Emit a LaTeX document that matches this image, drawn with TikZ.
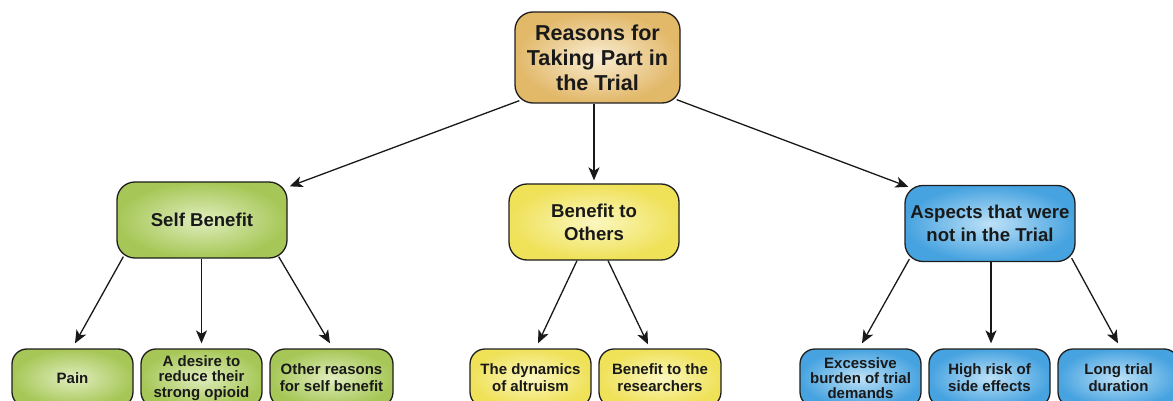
\documentclass[tikz,border=0pt]{standalone}
\usepackage{fontspec}
\setmainfont{Liberation Sans}
\usetikzlibrary{arrows.meta}
\definecolor{goldout}{HTML}{E2B869}
\definecolor{goldin}{HTML}{F9EDD3}
\definecolor{greenout}{HTML}{A6C757}
\definecolor{greenin}{HTML}{E0EDBE}
\definecolor{yellowout}{HTML}{EFE158}
\definecolor{yellowin}{HTML}{FBF7C0}
\definecolor{blueout}{HTML}{47A3E0}
\definecolor{bluein}{HTML}{BDE1F7}
\definecolor{edgegray}{HTML}{1E1E1E}
\tikzset{
  box/.style={draw=edgegray, line width=1.3pt, rounded corners=15pt, align=center,
    inner sep=0pt, font=\bfseries, text=black!90},
  topbox/.style={box, minimum width=165pt, minimum height=91pt, rounded corners=18pt,
    inner color=goldin, outer color=goldout, font=\fontsize{21.6}{25}\selectfont\bfseries},
  midbox/.style={box, minimum width=170pt, minimum height=76pt, rounded corners=18pt,
    font=\fontsize{18.6}{23}\selectfont\bfseries},
  leafbox/.style={box, minimum width=121pt, minimum height=58pt, rounded corners=15pt,
    font=\fontsize{15}{17}\selectfont\bfseries},
  tightleaf/.style={leafbox, font=\fontsize{15}{15.3}\selectfont\bfseries},
  greenfill/.style={inner color=greenin, outer color=greenout},
  yellowfill/.style={inner color=yellowin, outer color=yellowout},
  bluefill/.style={inner color=bluein, outer color=blueout},
  link/.style={draw=black!90, line width=1.3pt, -{Stealth[length=13pt,width=11pt,inset=3.5pt]}}
}
\begin{document}
\begin{tikzpicture}[x=1pt,y=-1pt]
\useasboundingbox (0,0) rectangle (1173,401);
\clip (0,0) rectangle (1173,401);
\node[topbox] (top) at (597.5,57.5) {Reasons for\\Taking Part in\\the Trial};
\node[midbox,greenfill] (sb) at (202,220) {Self Benefit};
\node[midbox,yellowfill] (bo) at (594,222) {Benefit to\\Others};
\node[midbox,bluefill] (asp) at (990,223.5) {Aspects that were\\not in the Trial};

\node[leafbox,greenfill] (pain) at (72.5,378) {Pain};
\node[tightleaf,greenfill] (desire) at (201.5,378) {A desire to\\reduce their\\strong opioid};
\node[leafbox,greenfill,minimum width=123pt] (other) at (331.5,378) {Other reasons\\for self benefit};
\node[leafbox,yellowfill] (dyn) at (530.5,378) {The dynamics\\of altruism};
\node[leafbox,yellowfill,minimum width=122pt] (res) at (660,378) {Benefit to the\\researchers};
\node[tightleaf,bluefill] (exc) at (860.5,378) {Excessive\\burden of trial\\demands};
\node[leafbox,bluefill] (high) at (989.5,378) {High risk of\\side effects};
\node[leafbox,bluefill] (long) at (1118.5,378) {Long trial\\duration};

\draw[link] ([xshift=5pt,yshift=3pt]top.south west) -- ([xshift=2pt,yshift=-5pt]sb.north east);
\draw[link] ([xshift=-3.5pt]top.south) -- ([yshift=3pt]bo.north);
\draw[link] ([xshift=-4pt,yshift=4pt]top.south east) -- ([xshift=4pt,yshift=-2pt]asp.north west);

\draw[link] ([xshift=7pt,yshift=2pt]sb.south west) -- ([xshift=2.5pt,yshift=5pt]pain.north);
\draw[link] ([xshift=-0.5pt]sb.south) -- ([yshift=5pt]desire.north);
\draw[link] ([xshift=-9pt,yshift=2pt]sb.south east) -- ([xshift=-1.5pt,yshift=5pt]other.north);

\draw[link] ([xshift=-17pt]bo.south) -- ([xshift=7.5pt,yshift=5pt]dyn.north);
\draw[link] ([xshift=14pt]bo.south) -- ([xshift=-12pt,yshift=4pt]res.north);

\draw[link] ([xshift=5pt,yshift=3pt]asp.south west) -- ([xshift=1.5pt,yshift=5pt]exc.north);
\draw[link] ([xshift=1pt]asp.south) -- ([xshift=1.5pt,yshift=5pt]high.north);
\draw[link] ([xshift=-4pt,yshift=4pt]asp.south east) -- ([xshift=-0.5pt,yshift=5pt]long.north);
\end{tikzpicture}
\end{document}
